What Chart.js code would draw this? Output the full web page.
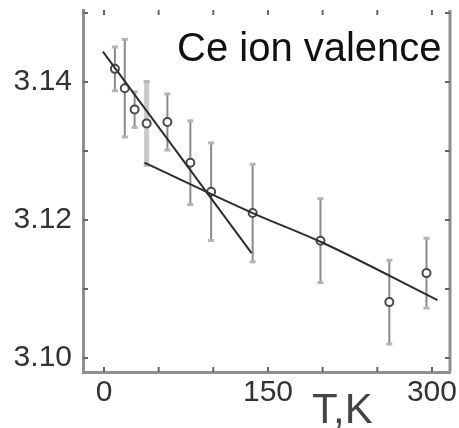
<!DOCTYPE html>
<html>
<head>
<meta charset="utf-8">
<script src="https://cdn.jsdelivr.net/npm/chart.js@4"></script>
<style>
  html, body { margin: 0; padding: 0; background: #fff; }
  #wrap { width: 459px; height: 428px; }
</style>
</head>
<body>
<div id="wrap"><canvas id="chart" width="459" height="428"></canvas></div>
<script>
// measured points, T in K
const temps   = [10, 19, 28, 39, 58, 79, 98, 136, 198, 261, 295];
const valence = [3.1419, 3.1391, 3.1360, 3.1340, 3.1342, 3.1283, 3.1241, 3.1210, 3.1170, 3.1081, 3.1123];
const errors  = [0.0031, 0.0070, 0.0025, 0.0060, 0.0040, 0.0060, 0.0070, 0.0070, 0.0060, 0.0060, 0.0050];

// the two guide lines
const steepT = [-1, 135];
const steepV = [3.1444, 3.1152];
const fitT = [37, 136, 200, 305];
const fitV = [3.1283, 3.1210, 3.1167, 3.1084];

const xTicks = [0, 50, 100, 150, 200, 250, 300];
const xLabels = [0, 150, 300];
const yTicks = [3.10, 3.11, 3.12, 3.13, 3.14, 3.15];
const yLabels = ["3.10", "3.12", "3.14"];

const FONT = "'Liberation Sans', Arial, sans-serif";
const axisColor = "#8f8f8f";

const errorBars = {
  id: "errorBars",
  beforeDatasetsDraw(chart) {
    const ctx = chart.ctx;
    const xs = chart.scales.x, ys = chart.scales.y;
    ctx.save();
    temps.forEach((t, i) => {
      const px = xs.getPixelForValue(t);
      const top = ys.getPixelForValue(valence[i] + errors[i]);
      const bot = ys.getPixelForValue(valence[i] - errors[i]);
      const wide = i === 3;
      ctx.strokeStyle = wide ? "#c9c9c9" : "#8a8a8a";
      ctx.lineWidth = wide ? 5 : 2;
      ctx.beginPath();
      ctx.moveTo(px, top);
      ctx.lineTo(px, bot);
      ctx.stroke();
      ctx.fillStyle = "#b5b5b5";
      ctx.fillRect(px - 3, top - 2, 6, 3);
      ctx.fillRect(px - 3, bot - 1, 6, 3);
    });
    ctx.restore();
  }
};

const frame = {
  id: "frame",
  afterDraw(chart) {
    const ctx = chart.ctx;
    const a = chart.chartArea;
    const xs = chart.scales.x, ys = chart.scales.y;
    ctx.save();
    // right axis line
    ctx.strokeStyle = axisColor;
    ctx.lineWidth = 3;
    ctx.beginPath();
    ctx.moveTo(a.right, a.top);
    ctx.lineTo(a.right, a.bottom);
    ctx.stroke();

    // inward ticks on all sides
    ctx.strokeStyle = "#666";
    ctx.lineWidth = 2;
    ctx.beginPath();
    xTicks.forEach(v => {
      const p = xs.getPixelForValue(v);
      ctx.moveTo(p, a.bottom); ctx.lineTo(p, a.bottom - 5);
      ctx.moveTo(p, a.top); ctx.lineTo(p, a.top + 5);
    });
    yTicks.forEach(v => {
      const p = ys.getPixelForValue(v);
      ctx.moveTo(a.left, p); ctx.lineTo(a.left + 5, p);
      ctx.moveTo(a.right, p); ctx.lineTo(a.right - 5, p);
    });
    ctx.stroke();

    ctx.fillStyle = "#111";
    ctx.font = "40px " + FONT;
    ctx.textAlign = "left";
    ctx.textBaseline = "alphabetic";
    ctx.fillText("Ce ion valence", 177, 61);

    ctx.fillStyle = "#444";
    ctx.font = "42px " + FONT;
    ctx.fillText("T,K", 312, 423);
    ctx.restore();
  }
};

new Chart(document.getElementById("chart"), {
  type: "scatter",
  data: {
    datasets: [
      {
        label: "steep",
        data: steepT.map((t, i) => ({ x: t, y: steepV[i] })),
        showLine: true,
        borderColor: "#2e2e2e",
        borderWidth: 2,
        pointRadius: 0
      },
      {
        label: "fit",
        data: fitT.map((t, i) => ({ x: t, y: fitV[i] })),
        showLine: true,
        borderColor: "#2e2e2e",
        borderWidth: 2,
        pointRadius: 0,
        cubicInterpolationMode: "monotone"
      },
      {
        label: "valence",
        data: temps.map((t, i) => ({ x: t, y: valence[i] })),
        pointStyle: "circle",
        pointRadius: 4,
        borderWidth: 2,
        borderColor: "#4a4a4a",
        backgroundColor: "#fff"
      }
    ]
  },
  options: {
    responsive: false,
    animation: false,
    layout: { padding: { top: 10, right: 9, left: 0, bottom: 0 } },
    plugins: { legend: { display: false }, tooltip: { enabled: false } },
    scales: {
      x: {
        type: "linear",
        min: -19.2,
        max: 316.5,
        afterBuildTicks: s => { s.ticks = xTicks.map(v => ({ value: v })); },
        afterFit: s => { s.height = 56; s.paddingLeft = 0; s.paddingRight = 0; },
        grid: { display: false },
        border: { display: true, color: axisColor, width: 3 },
        ticks: {
          autoSkip: false,
          maxRotation: 0,
          padding: -5,
          color: "#333",
          font: { family: FONT, size: 30 },
          callback: v => xLabels.includes(v) ? String(v) : ""
        }
      },
      y: {
        min: 3.09797,
        max: 3.15043,
        afterBuildTicks: s => { s.ticks = yTicks.map(v => ({ value: v })); },
        afterFit: s => { s.width = 83; s.paddingTop = 0; s.paddingBottom = 0; },
        grid: { display: false },
        border: { display: true, color: axisColor, width: 3 },
        ticks: {
          autoSkip: false,
          padding: 3,
          color: "#333",
          font: { family: FONT, size: 30 },
          callback: v => {
            const s = v.toFixed(2);
            return yLabels.includes(s) ? s : "";
          }
        }
      }
    }
  },
  plugins: [errorBars, frame]
});
</script>
</body>
</html>
